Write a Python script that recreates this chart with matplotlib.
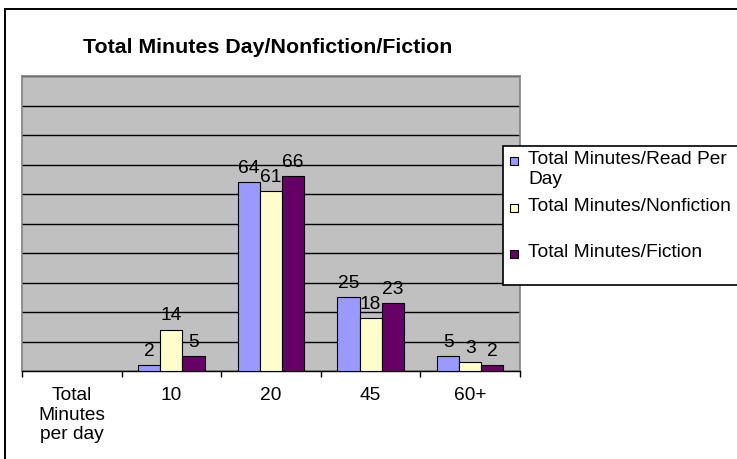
import numpy as np
import matplotlib
matplotlib.use('Agg')
import matplotlib.pyplot as plt
from matplotlib.patches import Rectangle

plt.rcParams['font.family'] = ['Liberation Sans', 'DejaVu Sans']

# chart data
categories = ['Total\nMinutes\nper day', '10', '20', '45', '60+']
read_per_day = [np.nan, 2, 64, 25, 5]
nonfiction = [np.nan, 14, 61, 18, 3]
fiction = [np.nan, 5, 66, 23, 2]
series_names = ['Total Minutes/Read Per\nDay', 'Total Minutes/Nonfiction', 'Total Minutes/Fiction']
series_colors = ['#9999FF', '#FFFFCC', '#660066']

W, H = 737, 460
fs = 13.8
fig = plt.figure(figsize=(W / 100, H / 100), dpi=100)
ax = fig.add_axes([22 / W, 1 - 372 / H, 498 / W, 295 / H])
ax.set_facecolor('#C0C0C0')

x = np.arange(len(categories))
width = 0.222
all_series = [read_per_day, nonfiction, fiction]
for i, (vals, col) in enumerate(zip(all_series, series_colors)):
    pos = x + (i - 1) * width
    ax.bar(pos, vals, width, color=col, edgecolor='black', linewidth=0.8, zorder=3)
    for p, v in zip(pos, vals):
        if np.isnan(v):
            continue
        ax.annotate(str(v), (p, v), xytext=(0, 4.5), textcoords='offset points',
                    ha='center', va='bottom', fontsize=fs, zorder=4)

ax.set_xlim(-0.5, len(categories) - 0.5)
ax.set_ylim(0, 100)
ax.set_yticks(np.arange(0, 101, 10))
ax.yaxis.grid(True, color='black', linewidth=1, zorder=1)
ax.tick_params(axis='y', left=False, labelleft=False)

ax.set_xticks(x)
ax.set_xticklabels(categories, fontsize=fs, linespacing=1.2)
ax.tick_params(axis='x', which='major', length=0, pad=11)
ax.set_xticks(np.arange(-0.5, len(categories), 1), minor=True)
ax.tick_params(axis='x', which='minor', length=4, width=1, direction='out')

for side in ['left', 'right', 'top']:
    ax.spines[side].set_color('#808080')
    ax.spines[side].set_linewidth(1.2)
ax.spines['bottom'].set_color('black')
ax.spines['bottom'].set_linewidth(1)

fig.text(83 / W, 1 - 53 / H, 'Total Minutes Day/Nonfiction/Fiction',
         fontsize=15.4, fontweight='bold', ha='left', va='baseline')

# outer chart border
fig.patches.append(Rectangle((5 / W, -0.05), 1.0, 1.05 - 10 / H, transform=fig.transFigure,
                             fill=False, edgecolor='black', linewidth=1.4))

# legend box
fig.patches.append(Rectangle((503 / W, 1 - 286 / H), 0.4, (286 - 147) / H, transform=fig.transFigure,
                             facecolor='white', edgecolor='black', linewidth=1.2, zorder=5))
legend_y = [162, 209, 255]
for name, col, ly in zip(series_names, series_colors, legend_y):
    fig.patches.append(Rectangle((510 / W, 1 - (ly + 4) / H), 8 / W, 8 / H, transform=fig.transFigure,
                                 facecolor=col, edgecolor='black', linewidth=0.8, zorder=6))
    fig.text(528 / W, 1 - (ly - 11) / H, name, fontsize=fs, ha='left', va='top',
             linespacing=1.2, zorder=7)

fig.savefig('out.png', dpi=100)
